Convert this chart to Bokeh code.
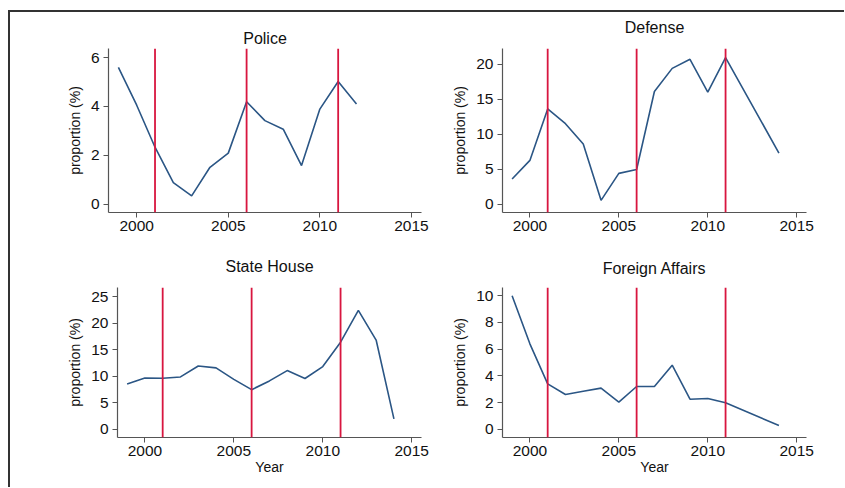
from bokeh.plotting import figure
from bokeh.models import Span, Range1d, FixedTicker, LinearAxis
from bokeh.layouts import column, row
from bokeh.embed import file_html
from bokeh.resources import INLINE

# ---- data ----
police_years = [1999, 2000, 2001, 2002, 2003, 2004, 2005, 2006, 2007, 2008, 2009, 2010, 2011, 2012]
police_vals = [5.6, 4.05, 2.33, 0.88, 0.34, 1.51, 2.09, 4.19, 3.42, 3.07, 1.58, 3.89, 5.02, 4.1]

defense_years = [1999, 2000, 2001, 2002, 2003, 2004, 2005, 2006, 2007, 2008, 2009, 2010, 2011, 2014]
defense_vals = [3.6, 6.25, 13.6, 11.5, 8.6, 0.55, 4.4, 4.95, 16.1, 19.4, 20.7, 16.0, 20.95, 7.3]

state_years = [1999, 2000, 2001, 2002, 2003, 2004, 2005, 2006, 2007, 2008, 2009, 2010, 2011, 2012, 2013, 2014]
state_vals = [8.5, 9.65, 9.6, 9.85, 11.9, 11.55, 9.4, 7.45, 9.1, 11.05, 9.55, 11.8, 16.4, 22.4, 16.8, 1.95]

foreign_years = [1999, 2000, 2001, 2002, 2003, 2004, 2005, 2006, 2007, 2008, 2009, 2010, 2011, 2014]
foreign_vals = [10.0, 6.4, 3.4, 2.6, 2.85, 3.08, 2.03, 3.2, 3.2, 4.8, 2.25, 2.3, 1.98, 0.28]

event_years = [2001, 2006, 2011]
x_ticks = [2000, 2005, 2010, 2015]

FONT = "Liberation Sans"
NAVY = "#2b5685"
RED = "#d8163f"
AXIS = "#555555"
BORDER = "#333333"


def panel(title, years, vals, y0, y1, yticks, left, fw, fh, top, bottom, right,
          title_standoff, title_gap=0, xlabel=None):
    p = figure(output_backend="svg", toolbar_location=None,
               frame_width=fw, frame_height=fh,
               min_border_left=left, min_border_right=right,
               min_border_top=top, min_border_bottom=bottom,
               x_range=Range1d(1998.46, 2015.55), y_range=Range1d(y0, y1),
               title=title)
    p.title.text_font = FONT
    p.title.text_font_size = "16px"
    p.title.text_font_style = "normal"
    p.title.text_color = "#111111"
    p.title.align = "center"
    p.title.standoff = title_standoff
    p.outline_line_color = None
    p.xgrid.visible = False
    p.ygrid.visible = False
    p.background_fill_color = "white"
    p.border_fill_color = "white"

    xax = p.below[0]
    yax = p.left[0]
    for ax in (xax, yax):
        ax.axis_line_color = AXIS
        ax.axis_line_width = 1.2
        ax.major_tick_line_color = AXIS
        ax.major_tick_out = 5
        ax.major_tick_in = 0
        ax.minor_tick_line_color = None
        ax.major_label_text_font = FONT
        ax.major_label_text_font_size = "15.5px"
        ax.major_label_text_color = "#111111"
        ax.axis_label_text_font = FONT
        ax.axis_label_text_font_size = "14px"
        ax.axis_label_text_font_style = "normal"
        ax.axis_label_text_color = "#111111"

    xax.ticker = FixedTicker(ticks=x_ticks)
    xax.major_label_standoff = 3
    yax.ticker = FixedTicker(ticks=yticks)
    yax.major_label_standoff = 4
    yax.axis_label = "proportion (%)"
    yax.axis_label_standoff = 5
    if xlabel:
        xax.axis_label = xlabel
        xax.axis_label_standoff = 0

    for yr in event_years:
        p.add_layout(Span(location=yr, dimension="height", line_color=RED, line_width=1.8))

    p.line(years, vals, line_color=NAVY, line_width=1.6)

    if title_gap:
        # fully transparent axis used only as a spacer between frame and title
        spacer = LinearAxis(ticker=FixedTicker(ticks=[x_ticks[0]]),
                            axis_line_alpha=0, major_tick_line_alpha=0,
                            minor_tick_line_color=None,
                            major_tick_out=title_gap, major_tick_in=0,
                            minor_tick_out=0, minor_tick_in=0,
                            major_label_standoff=0,
                            major_label_overrides={x_ticks[0]: " "},
                            major_label_text_font_size="1px",
                            major_label_text_alpha=0)
        p.add_layout(spacer, "above")
    return p


p1 = panel("Police", police_years, police_vals, -0.34, 6.37, [0, 2, 4, 6],
           left=98, fw=313, fh=164, top=36, bottom=33, right=19, title_standoff=4)
p2 = panel("Defense", defense_years, defense_vals, -1.19, 22.24, [0, 5, 10, 15, 20],
           left=62, fw=304, fh=164, top=36, bottom=33, right=38, title_standoff=0,
           title_gap=13)
p3 = panel("State House", state_years, state_vals, -1.56, 26.7, [0, 5, 10, 15, 20, 25],
           left=107, fw=304, fh=150, top=42, bottom=50, right=19, title_standoff=0,
           title_gap=13, xlabel="Year")
p4 = panel("Foreign Affairs", foreign_years, foreign_vals, -0.62, 10.62, [0, 2, 4, 6, 8, 10],
           left=62, fw=304, fh=150, top=42, bottom=50, right=38, title_standoff=0,
           title_gap=11, xlabel="Year")

layout = column(row(p1, p2), row(p3, p4))
layout.margin = (10, 0, 0, 8)
layout.styles = {"border-top": "2px solid " + BORDER, "border-left": "2px solid " + BORDER}

open("out.html", "w").write(file_html(layout, INLINE))
